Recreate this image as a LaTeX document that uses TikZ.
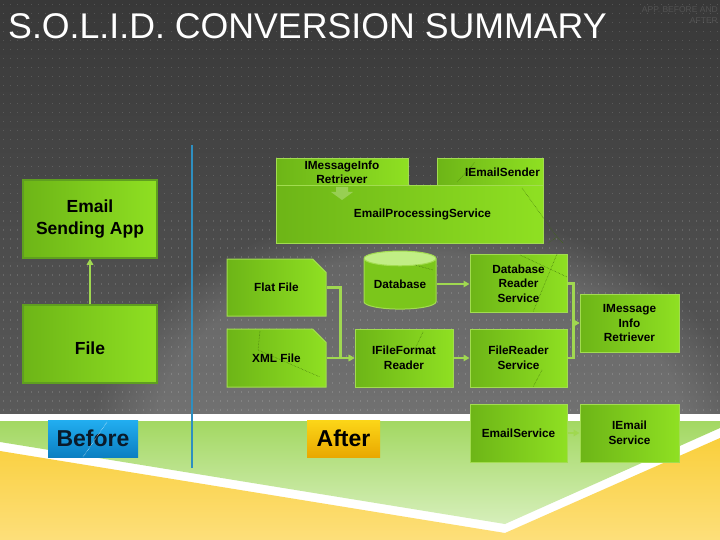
\documentclass[tikz,border=0pt]{standalone}
\usepackage{fontspec}
\setmainfont{Liberation Sans}
\usetikzlibrary{shapes.geometric,shapes.misc,arrows.meta,calc,fadings}
\definecolor{bgtop}{HTML}{383838}
\definecolor{bgbot}{HTML}{5A5A5A}
\definecolor{gdark}{HTML}{6DB517}
\definecolor{glight}{HTML}{8FE022}
\definecolor{gborder}{HTML}{A2DC50}
\definecolor{gborderdark}{HTML}{5F9F1F}
\definecolor{conncol}{HTML}{A0D850}
\definecolor{bluebar}{HTML}{2E8FC0}
\definecolor{greentop}{HTML}{A3D862}
\definecolor{greenbot}{HTML}{D6EFBB}
\definecolor{yeltop}{HTML}{F9CF3C}
\definecolor{yelmid}{HTML}{F7C21C}
\definecolor{yelbot}{HTML}{FDDF7A}
\definecolor{artcol}{HTML}{3D6E0A}
\begin{document}
\begin{tikzpicture}[x=1pt,y=-1pt,
  box/.style={draw=gborder, line width=1pt, left color=gdark, right color=glight,
    inner sep=0pt, align=center, text=black,
    font=\fontsize{11.8}{14.5}\selectfont\bfseries},
  bigbox/.style={box, draw=gborderdark, line width=1.5pt,
    font=\fontsize{17.5}{22}\selectfont\bfseries},
  dogear/.style={chamfered rectangle, chamfered rectangle corners=north east,
    chamfered rectangle xsep=#1, chamfered rectangle ysep=#1},
  conn/.style={draw=conncol, line width=2.4pt, -{Triangle[length=6pt,width=6.5pt]}},
  artifact/.style={draw=artcol, line width=0.5pt, densely dotted},
  dotline/.style={draw=white, draw opacity=0.14, line width=0.9pt, dash pattern=on 1.5pt off 7.5pt},
  tagbox/.style={inner sep=0pt, font=\fontsize{23}{26}\selectfont\bfseries}
]
\useasboundingbox (0,0) rectangle (720,540);
% background
\shade[top color=bgtop, bottom color=bgbot] (0,0) rectangle (720,414);
\begin{scope}
  \clip (0,0) rectangle (720,414);
  \fill[white, fill opacity=0.14, path fading=circle with fuzzy edge 20 percent] (420,440) ellipse (330pt and 230pt);
\end{scope}
\foreach \x in {3,10,...,717} { \draw[dotline] (\x,4) -- (\x,412); }
\fill[white] (0,414) rectangle (720,540);
\shade[top color=greentop, bottom color=greenbot] (0,421) -- (720,421) -- (720,428) -- (505,524) -- (0,442) -- cycle;
\shade[top color=yeltop, middle color=yelmid, bottom color=yelbot] (0,451) -- (505,533) -- (720,438) -- (720,540) -- (0,540) -- cycle;

% title
\node[anchor=base west, inner sep=0pt, text=white, font=\fontsize{35.7}{40}\selectfont] (title) at (8,39) {S.O.L.I.D. CONVERSION SUMMARY};
\node[anchor=north east, inner sep=0pt, align=right, text=white, text opacity=0.13, font=\fontsize{8.5}{11}\selectfont] (subtitle) at (718,6) {APP. BEFORE AND\\AFTER};

% divider
\draw[bluebar, line width=2pt] (192,145) -- (192,468);

% before side
\node[bigbox, minimum width=134pt, minimum height=78pt] (esa) at (90,219) {Email\\Sending App};
\node[bigbox, dogear=12pt, minimum width=134pt, minimum height=78pt,
  label={[yshift=-4pt, font=\fontsize{17.5}{22}\selectfont\bfseries]center:File}] (file) at (90,344) {};
\draw[conn] (file.north) -- (esa.south);

\node[tagbox, top color={rgb,255:red,34;green,174;blue,240}, bottom color={rgb,255:red,11;green,127;blue,194}, text={rgb,255:red,10;green,26;blue,42}, minimum width=90pt, minimum height=37pt] (before) at (93,438.5) {Before};
\draw[white, line width=0.5pt, densely dotted] (107,422) -- (83,457);

% after side: EmailProcessingService composite
\node[box, minimum width=132pt, minimum height=27pt] (imrtab) at (342,172.5) {IMessageInfo\\Retriever};
\node[box, minimum width=106pt, minimum height=27pt] (iestab) at (490,172.5) {\hspace*{25pt}IEmailSender};
\node[box, minimum width=267pt, minimum height=57pt] (eps) at (409.5,214.5) {\hspace*{26pt}EmailProcessingService};
\fill[white, opacity=0.25] (336,187) -- (348,187) -- (348,192) -- (353,192) -- (342,200) -- (331,192) -- (336,192) -- cycle;

% file / database
\node[box, dogear=9pt, minimum width=99pt, minimum height=57pt] (flat) at (276.5,287.5) {Flat File};
\node[box, dogear=9pt, minimum width=99pt, minimum height=58pt] (xml) at (276.5,358) {XML File};
\node[cylinder, shape border rotate=90, aspect=0.28, draw=gborder, line width=1pt,
  cylinder uses custom fill, cylinder body fill=gdark!60!glight, cylinder end fill=glight!55!white,
  minimum width=72pt, minimum height=58pt, inner sep=0pt, text=black,
  font=\fontsize{11.8}{14.5}\selectfont\bfseries] (db) at (400,284) {Database};
\node[box, minimum width=98pt, minimum height=58pt] (ifr) at (404,358) {IFileFormat\\Reader};
\node[box, minimum width=97pt, minimum height=58pt] (drs) at (518.5,283.5) {Database\\Reader\\Service};
\node[box, minimum width=97pt, minimum height=58pt] (frs) at (518.5,358) {FileReader\\Service};
\node[box, minimum width=99pt, minimum height=58pt] (imir) at (629.5,323) {IMessage\\Info\\Retriever};
\node[box, minimum width=97pt, minimum height=58pt] (es) at (518.5,433) {EmailService};
\node[box, minimum width=99pt, minimum height=58pt] (ies) at (629.5,433) {IEmail\\Service};

\node[tagbox, top color={rgb,255:red,252;green,214;blue,24}, bottom color={rgb,255:red,233;green,168;blue,0}, text=black, minimum width=73pt, minimum height=37pt] (after) at (343.5,438.5) {After};

% connectors
\draw[conn] (flat.east) -- ++(14,0) |- (ifr.west);
\draw[conn] (xml.east) -- (ifr.west);
\draw[conn] (db.east) -- (drs.west |- db.east);
\draw[conn] (ifr.east) -- (frs.west);
\draw[conn] (drs.east) -- ++(6,0) |- (imir.west);
\draw[conn] (frs.east) -- ++(6,0) |- (imir.west);
\draw[conn] (es.east) -- (ies.west);

% faint dotted artifacts
\draw[artifact] (522,188) -- (557,237) -- (548,243);
\draw[artifact] (557,237) -- (563,243);
\draw[artifact] (457,182) -- (475,162);
\draw[artifact] (520,255) -- (567,277);
\draw[artifact] (557,254) -- (533,312);
\draw[artifact] (542,370) -- (533,387);
\draw[artifact] (423,332) -- (413,353);
\draw[artifact] (415,265) -- (433,270);
\draw[artifact] (260,331) -- (258,350) -- (320,377);
\end{tikzpicture}
\end{document}
